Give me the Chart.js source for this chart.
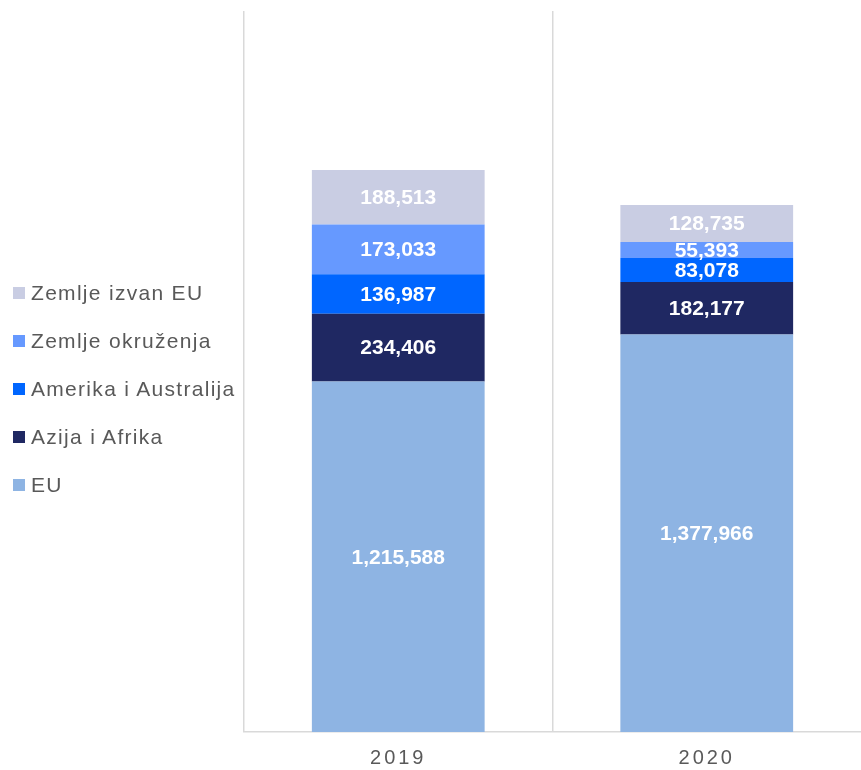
<!DOCTYPE html>
<html>
<head>
<meta charset="utf-8">
<script src="https://cdn.jsdelivr.net/npm/chart.js@4.4.1/dist/chart.umd.min.js"></script>
<style>
  body { margin: 0; background: #fff; }
  #wrap { position: relative; width: 861px; height: 770px; overflow: hidden; }
  #legenda { position: absolute; left: 13px; top: 269px; font-family: "Liberation Sans", Arial, sans-serif; }
  .stavka { height: 48px; display: flex; align-items: center; font-size: 21px; letter-spacing: 1.3px; color: #595959; }
  .kocka { width: 12px; height: 12px; margin-right: 6px; }
</style>
</head>
<body>
<div id="wrap">
  <canvas id="chartIzvoz" width="861" height="770"></canvas>
  <div id="legenda"></div>
</div>
<script>
// Podaci sa grafikona
const godine = ["2019", "2020"];
const nazivi = ["EU", "Azija i Afrika", "Amerika i Australija", "Zemlje okruženja", "Zemlje izvan EU"];
const boje = ["#8EB4E3", "#1F2862", "#0066FF", "#6699FF", "#C9CDE3"];
const vrijednostiEU = [1215588, 1377966];
const vrijednostiAzija = [234406, 182177];
const vrijednostiAmerika = [136987, 83078];
const vrijednostiOkruzenje = [173033, 55393];
const vrijednostiIzvanEU = [188513, 128735];
const serije = [vrijednostiEU, vrijednostiAzija, vrijednostiAmerika, vrijednostiOkruzenje, vrijednostiIzvanEU];
const maxY = 2500000;

// Legenda (obrnutim redom, kao na originalu)
const legenda = document.getElementById("legenda");
for (let i = nazivi.length - 1; i >= 0; i--) {
  const red = document.createElement("div");
  red.className = "stavka";
  red.innerHTML = '<span class="kocka" style="background:' + boje[i] + '"></span>' + nazivi[i];
  legenda.appendChild(red);
}

// Plugin za brojeve unutar stubaca
const oznakePlugin = {
  id: "oznake",
  beforeDraw(chart) {
    chart.ctx.letterSpacing = "3px";
  },
  beforeDatasetsDraw(chart) {
    chart.ctx.letterSpacing = "0px";
  },
  afterDatasetsDraw(chart) {
    const ctx = chart.ctx;
    ctx.save();
    ctx.letterSpacing = "0px";
    ctx.font = 'bold 21px "Liberation Sans", Arial, sans-serif';
    ctx.fillStyle = "#ffffff";
    ctx.textAlign = "center";
    ctx.textBaseline = "middle";
    chart.data.datasets.forEach((ds, i) => {
      const meta = chart.getDatasetMeta(i);
      meta.data.forEach((bar, j) => {
        const y = (bar.y + bar.base) / 2;
        ctx.fillText(ds.data[j].toLocaleString("en-US"), bar.x, y + 1);
      });
    });
    ctx.restore();
  }
};

const chartIzvoz = new Chart(document.getElementById("chartIzvoz"), {
  type: "bar",
  data: {
    labels: godine,
    datasets: serije.map((s, i) => ({
      label: nazivi[i],
      data: s,
      backgroundColor: boje[i],
      categoryPercentage: 1,
      barPercentage: 0.56,
    })),
  },
  options: {
    responsive: false,
    animation: false,
    layout: { padding: { left: 244, top: 11, right: -4, bottom: 0 } },
    plugins: {
      legend: { display: false },
      tooltip: { enabled: false },
    },
    scales: {
      x: {
        stacked: true,
        grid: {
          color: (c) => (c.type === "tick" ? "#D9D9D9" : "rgba(0,0,0,0)"),
          lineWidth: 1.5,
          drawTicks: false,
        },
        border: { color: "#D9D9D9", width: 1.5 },
        ticks: {
          color: "#595959",
          padding: 14,
          font: { family: '"Liberation Sans", Arial, sans-serif', size: 20 },
        },
        afterFit(scale) { scale.height = 38; },
      },
      y: {
        stacked: true,
        display: false,
        min: 0,
        max: maxY,
      },
    },
  },
  plugins: [oznakePlugin],
});
</script>
</body>
</html>
